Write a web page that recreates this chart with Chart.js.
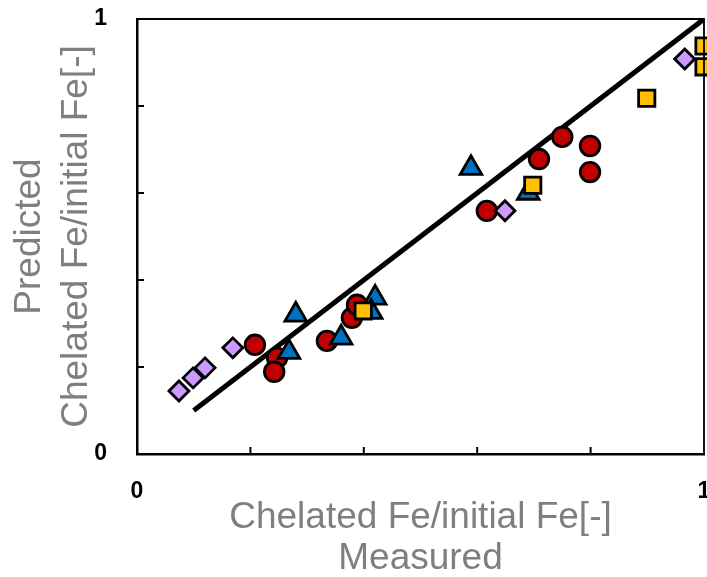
<!DOCTYPE html>
<html>
<head>
<meta charset="utf-8">
<script src="https://cdn.jsdelivr.net/npm/chart.js@4"></script>
<style>
  body { margin: 0; background: #fff; }
</style>
</head>
<body>
<canvas id="parityChart" width="707" height="577"></canvas>
<script>
// measured vs predicted chelated Fe fraction, one series per marker
const diamondX  = [0.074, 0.099, 0.120, 0.169, 0.649, 0.966];
const diamondY  = [0.145, 0.175, 0.198, 0.244, 0.559, 0.908];
const squareX   = [0.399, 0.698, 0.899, 1.000, 1.000];
const squareY   = [0.329, 0.618, 0.818, 0.938, 0.890];
const triangleX = [0.280, 0.268, 0.360, 0.420, 0.413, 0.589, 0.690];
const triangleY = [0.320, 0.234, 0.267, 0.359, 0.326, 0.657, 0.600];
const circleX   = [0.208, 0.247, 0.242, 0.335, 0.379, 0.388, 0.617, 0.709, 0.750, 0.799, 0.799];
const circleY   = [0.251, 0.221, 0.189, 0.260, 0.313, 0.343, 0.559, 0.678, 0.729, 0.708, 0.648];
// 1:1 reference line
const parityX = [0.1, 1];
const parityY = [0.1, 1];

// only the ends of each axis carry a label
const endTicks = [0, 1];
const axisLabels = { 0: "0", 1: "1" };

const toPoints = (xs, ys) => xs.map((x, i) => ({ x: x, y: ys[i] }));

function markerSet(xs, ys, style, fill, radius) {
    return {
        type: "scatter",
        data: toPoints(xs, ys),
        pointStyle: style,
        pointRadius: radius,
        pointHoverRadius: radius,
        backgroundColor: fill,
        borderColor: "#000",
        borderWidth: 2.8,
        clip: false
    };
}

const tickFont = { family: "Liberation Sans", size: 23, weight: "bold" };
const titleFont = { family: "Liberation Sans", size: 37 };

// frame on top/right, inward tick marks, and the x end labels
// (drawn here so they don't push the plot area in from the right)
const framePlugin = {
    id: "frame",
    afterDatasetsDraw(chart) {
        const { ctx, chartArea: a, scales } = chart;
        ctx.save();
        ctx.strokeStyle = "#000";
        ctx.lineWidth = 1.8;
        ctx.beginPath();
        ctx.moveTo(a.left, a.top);
        ctx.lineTo(a.right, a.top);
        ctx.lineTo(a.right, a.bottom);
        ctx.stroke();

        ctx.lineWidth = 2;
        ctx.beginPath();
        scales.x.ticks.forEach(t => {
            if (t.value <= 0 || t.value >= 1) return;
            const px = scales.x.getPixelForValue(t.value);
            ctx.moveTo(px, a.bottom);
            ctx.lineTo(px, a.bottom - 7);
        });
        scales.y.ticks.forEach(t => {
            if (t.value <= 0 || t.value >= 1) return;
            const py = scales.y.getPixelForValue(t.value);
            ctx.moveTo(a.left, py);
            ctx.lineTo(a.left + 7, py);
        });
        ctx.stroke();

        ctx.fillStyle = "#000";
        ctx.font = "bold 23px 'Liberation Sans'";
        ctx.textAlign = "center";
        ctx.textBaseline = "middle";
        endTicks.forEach(v => {
            ctx.fillText(axisLabels[v], scales.x.getPixelForValue(v), a.bottom + 38);
        });
        ctx.restore();
    }
};

new Chart(document.getElementById("parityChart"), {
    data: {
        datasets: [
            markerSet(diamondX, diamondY, "rectRot", "#cc99ff", 10),
            markerSet(squareX, squareY, "rect", "#ffc000", 11.5),
            markerSet(triangleX, triangleY, "triangle", "#0070c0", 12.5),
            markerSet(circleX, circleY, "circle", "#c00000", 9.8),
            {
                type: "line",
                data: toPoints(parityX, parityY),
                borderColor: "#000",
                borderWidth: 5,
                pointRadius: 0,
                fill: false,
                order: 10
            }
        ]
    },
    options: {
        responsive: false,
        animation: false,
        layout: { autoPadding: false, padding: { top: 19, right: 3, left: 0, bottom: 0 } },
        plugins: {
            legend: { display: false },
            tooltip: { enabled: false }
        },
        scales: {
            x: {
                type: "linear",
                min: 0,
                max: 1,
                grid: { display: false },
                border: { display: true, color: "#000", width: 2.5 },
                ticks: { stepSize: 0.2, display: false },
                title: {
                    display: true,
                    text: ["Chelated Fe/initial Fe[-]", "Measured"],
                    color: "#7f7f7f",
                    font: { ...titleFont, lineHeight: 1.12 },
                    padding: { top: 0, bottom: -3 }
                },
                afterFit(scale) {
                    scale.height = 123;
                }
            },
            y: {
                type: "linear",
                min: 0,
                max: 1,
                grid: { display: false },
                border: { display: true, color: "#000", width: 2.5 },
                ticks: {
                    stepSize: 0.2,
                    autoSkip: false,
                    padding: 22,
                    color: "#000",
                    font: tickFont,
                    callback: v => axisLabels[v] ?? ""
                },
                title: {
                    display: true,
                    text: ["Predicted", "Chelated Fe/initial Fe[-]"],
                    color: "#7f7f7f",
                    font: { ...titleFont, lineHeight: 1.28 },
                    padding: { top: 6, bottom: 0 }
                },
                afterFit(scale) {
                    scale.width = 137;
                    scale.paddingTop = 0;
                    scale.paddingBottom = 0;
                }
            }
        }
    },
    plugins: [framePlugin]
});
</script>
</body>
</html>
